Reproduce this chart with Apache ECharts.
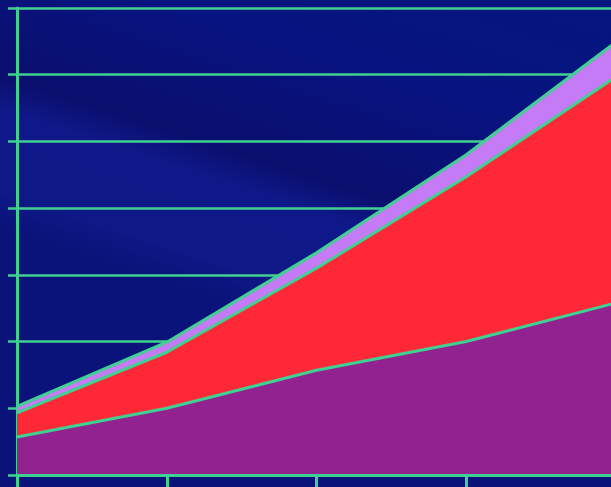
<!DOCTYPE html>
<html>
<head>
<meta charset="utf-8">
<script src="https://cdn.jsdelivr.net/npm/echarts@6/dist/echarts.min.js"></script>
<style>
  html, body { margin: 0; padding: 0; }
  body {
    width: 611px; height: 487px; overflow: hidden;
    background: linear-gradient(198deg,
      #04167f 0%, #071380 22%, #0a1176 32%, #0a0f6e 40%,
      #0f1889 45%, #0e1886 57%, #0a1379 62%, #0a1379 100%);
  }
  /* wider than the window: the last category sits just past the right edge */
  #chart { width: 620px; height: 487px; }
</style>
</head>
<body>
<div id="chart"></div>
<script>
// categories along the x axis (no labels shown)
const categories = ['1', '2', '3', '4', '5']
// stacked layers, bottom to top
const bottomLayer = [0.57, 1.0, 1.57, 2.0, 2.58]
const middleLayer = [0.36, 0.84, 1.53, 2.47, 3.39]
const topLayer = [0.10, 0.15, 0.23, 0.33, 0.52]

const lineGreen = '#40d092'

const chart = echarts.init(document.getElementById('chart'))

function layer (name, data, color) {
  return {
    name: name,
    type: 'line',
    stack: 'total',
    data: data,
    symbol: 'none',
    lineStyle: { color: lineGreen, width: 3 },
    areaStyle: { color: color, opacity: 1 },
    z: 3
  }
}

chart.setOption({
  backgroundColor: 'transparent',
  animation: false,
  grid: {
    left: 17,
    top: 8,
    right: 4,
    bottom: 12
  },
  xAxis: {
    type: 'category',
    data: categories,
    boundaryGap: false,
    axisLine: { lineStyle: { color: lineGreen, width: 3 } },
    axisTick: { show: true, length: 14, lineStyle: { color: lineGreen, width: 3 } },
    axisLabel: { show: false },
    splitLine: { show: false },
    z: 5
  },
  yAxis: {
    type: 'value',
    min: 0,
    max: 7,
    interval: 1,
    axisLine: { show: true, lineStyle: { color: lineGreen, width: 3 } },
    axisTick: { show: true, length: 9, lineStyle: { color: lineGreen, width: 2.5 } },
    axisLabel: { show: false },
    splitLine: { show: true, lineStyle: { color: lineGreen, width: 2.5 } }
  },
  series: [
    layer('bottom', bottomLayer, '#92228f'),
    layer('middle', middleLayer, '#ff2837'),
    layer('top', topLayer, '#c47bf5')
  ]
})
</script>
</body>
</html>
